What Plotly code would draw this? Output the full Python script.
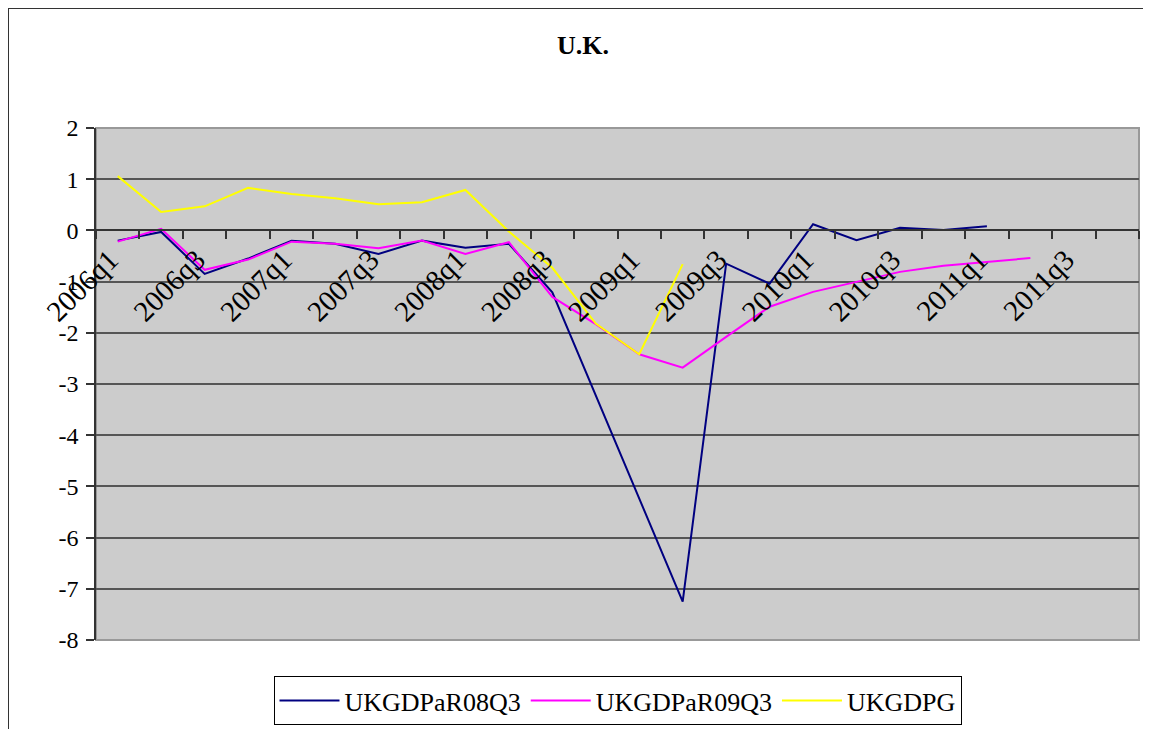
import plotly.graph_objects as go

categories = [f"{y}q{q}" for y in range(2006, 2012) for q in range(1, 5)]

ukgdpar08q3 = [-0.20, -0.03, -0.85, -0.55, -0.20, -0.26, -0.46, -0.20, -0.34, -0.26,
               -1.21, -3.22, -5.24, -7.25, -0.65, -1.04, 0.12, -0.19, 0.05, 0.01,
               0.08, None, None, None]
ukgdpar09q3 = [-0.22, 0.03, -0.77, -0.57, -0.22, -0.26, -0.35, -0.20, -0.46, -0.23,
               -1.30, -1.83, -2.42, -2.68, -2.08, -1.49, -1.20, -1.01, -0.81, -0.69,
               -0.62, -0.54, None, None]
ukgdpg = [1.06, 0.36, 0.47, 0.83, 0.71, 0.63, 0.51, 0.55, 0.79, -0.02,
          -0.73, -1.82, -2.42, -0.66, None, None, None, None, None, None,
          None, None, None, None]

x_ticktext = [c if i % 2 == 0 else "" for i, c in enumerate(categories)]
y_tickvals = [2, 1, 0, -1, -2, -3, -4, -5, -6, -7, -8]
y_ticktext = ["2", "1", "0", "-1", "-2", "-3", "-4", "-5", "-6", "-7", "-8"]

FONT = "Liberation Serif, Times New Roman, serif"
W, H = 1151, 729
OFF = 8  # page body margin
L, R, T, B = 96 - OFF, 1139 - OFF, 128 - OFF, 640 - OFF


def px(xw):
    return (xw - OFF - L) / (R - L)


def py(yw):
    return (B - (yw - OFF)) / (B - T)


fig = go.Figure()
fig.add_trace(go.Scatter(x=categories, y=ukgdpar08q3, mode="lines", name="UKGDPaR08Q3",
                         line=dict(color="#000080", width=2)))
fig.add_trace(go.Scatter(x=categories, y=ukgdpar09q3, mode="lines", name="UKGDPaR09Q3",
                         line=dict(color="#FF00FF", width=2)))
fig.add_trace(go.Scatter(x=categories, y=ukgdpg, mode="lines", name="UKGDPG",
                         line=dict(color="#FFFF00", width=2)))

fig.update_layout(
    width=W, height=H,
    margin=dict(l=L, r=W - R, t=T, b=H - B, pad=0, autoexpand=False),
    paper_bgcolor="white",
    plot_bgcolor="#CCCCCC",
    font=dict(family=FONT, size=24, color="black"),
    title=dict(text="<b>U.K.</b>", x=(583 - OFF) / W, xanchor="center",
               y=1 - (45 - OFF) / H, yanchor="middle",
               font=dict(family=FONT, size=26, color="black")),
    showlegend=True,
    legend=dict(orientation="h", xref="container", yref="container",
                x=(617.5 - OFF) / W, xanchor="center",
                y=1 - (676 - OFF) / H, yanchor="top",
                bgcolor="white", bordercolor="black", borderwidth=1,
                font=dict(family=FONT, size=26, color="black"),
                itemwidth=60, tracegroupgap=0),
    xaxis=dict(type="category", categoryorder="array", categoryarray=categories,
               range=[-0.5, 23.5], anchor="free", position=0.8, automargin=False,
               tickmode="array", tickvals=categories, ticktext=x_ticktext,
               tickson="boundaries", tickangle=-45, ticklabelshift=-8,
               ticks="outside", ticklen=8, tickcolor="#333333", tickwidth=1.5,
               showline=True, linecolor="#333333", linewidth=1.5,
               showgrid=False, zeroline=False,
               tickfont=dict(family=FONT, size=29, color="black")),
    yaxis=dict(range=[-8, 2], tickmode="array", tickvals=y_tickvals, ticktext=y_ticktext,
               automargin=False,
               ticks="outside", ticklen=8, tickcolor="#333333", tickwidth=1.5,
               ticklabelstandoff=3,
               showline=True, linecolor="#333333", linewidth=1.5,
               showgrid=True, gridcolor="#555555", gridwidth=1.5,
               zeroline=False,
               tickfont=dict(family=FONT, size=24, color="black")),
    shapes=[
        dict(type="rect", xref="paper", yref="paper", x0=0, x1=1, y0=0, y1=1,
             line=dict(color="#999999", width=2), layer="below"),
        dict(type="line", xref="paper", yref="paper", x0=px(8), x1=px(1160),
             y0=py(8), y1=py(8), line=dict(color="#333333", width=2)),
        dict(type="line", xref="paper", yref="paper", x0=px(8), x1=px(8),
             y0=py(8), y1=py(740), line=dict(color="#333333", width=2)),
    ],
)

fig.write_html("out.html")
